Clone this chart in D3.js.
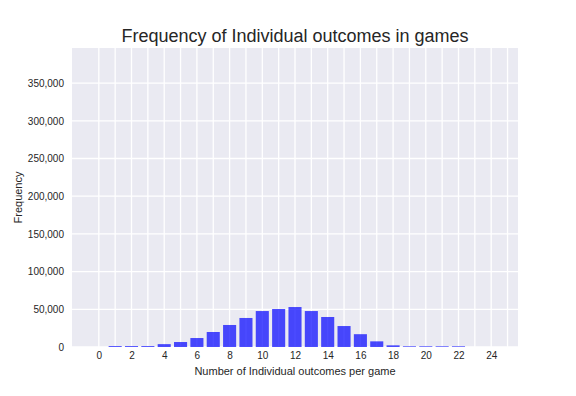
<!DOCTYPE html>
<html>
<head>
<meta charset="utf-8">
<script src="https://cdn.jsdelivr.net/npm/d3@7"></script>
<style>
  html, body { margin: 0; padding: 0; background: #ffffff; }
  svg { display: block; font-family: "Liberation Sans", Arial, sans-serif; }
</style>
</head>
<body>
<svg id="chart" width="576" height="396"></svg>
<script>
const outcomes = [0,1,2,3,4,5,6,7,8,9,10,11,12,13,14,15,16,17,18,19,20,21,22,23,24];
const frequency = [0,1200,1200,1200,3800,6600,11900,19900,29200,38500,47700,50400,53000,47700,39800,27800,17000,7500,2200,900,900,900,900,0,0];
const xTicks = [0,2,4,6,8,10,12,14,16,18,20,22,24];
const yTicks = [0,50000,100000,150000,200000,250000,300000,350000];
const titleText = "Frequency of Individual outcomes in games";
const xLabel = "Number of Individual outcomes per game";
const yLabel = "Frequency";

const svg = d3.select("#chart");
const m = {left: 72, top: 48, right: 518, bottom: 347};
const x = d3.scaleLinear().domain([-1.64, 25.64]).range([m.left, m.right]);
const y = d3.scaleLinear().domain([0, 396600]).range([m.bottom, m.top]);

svg.append("rect").attr("x", m.left).attr("y", m.top)
  .attr("width", m.right - m.left).attr("height", m.bottom - m.top)
  .attr("fill", "#EAEAF2");

const grid = svg.append("g");
d3.range(0, 26).forEach(v => {
  grid.append("line").attr("x1", x(v)).attr("x2", x(v))
    .attr("y1", m.top).attr("y2", m.bottom)
    .attr("stroke", "#ffffff").attr("stroke-width", 1.3);
});
yTicks.forEach(v => {
  grid.append("line").attr("x1", m.left).attr("x2", m.right)
    .attr("y1", y(v)).attr("y2", y(v))
    .attr("stroke", "#ffffff").attr("stroke-width", 1.3);
});

const bw = 0.8;
svg.append("g").selectAll("rect").data(outcomes).join("rect")
  .attr("x", d => x(d - bw/2))
  .attr("width", d => x(d + bw/2) - x(d - bw/2))
  .attr("y", (d,i) => y(frequency[i]))
  .attr("height", (d,i) => y(0) - y(frequency[i]))
  .attr("fill", "#0000ff").attr("fill-opacity", 0.7);

const fmt = d3.format(",");
const xAxis = svg.append("g").attr("transform", `translate(0,${m.bottom})`)
  .call(d3.axisBottom(x).tickValues(xTicks).tickSize(0).tickPadding(5).tickFormat(d3.format("d")));
const yAxis = svg.append("g").attr("transform", `translate(${m.left},0)`)
  .call(d3.axisLeft(y).tickValues(yTicks).tickSize(0).tickPadding(8).tickFormat(fmt));
[xAxis, yAxis].forEach(a => {
  a.select(".domain").remove();
  a.selectAll("text").attr("fill", "#262626").attr("font-size", "10px")
    .attr("font-family", "Liberation Sans, Arial, sans-serif");
});

svg.append("text").attr("x", (m.left + m.right)/2).attr("y", 42)
  .attr("text-anchor", "middle").attr("font-size", "18px").attr("fill", "#262626")
  .text(titleText);
svg.append("text").attr("x", (m.left + m.right)/2).attr("y", 375)
  .attr("text-anchor", "middle").attr("font-size", "11px").attr("fill", "#262626")
  .text(xLabel);
svg.append("text").attr("transform", `translate(22,${(m.top + m.bottom)/2}) rotate(-90)`)
  .attr("text-anchor", "middle").attr("font-size", "11px").attr("fill", "#262626")
  .text(yLabel);
</script>
</body>
</html>
